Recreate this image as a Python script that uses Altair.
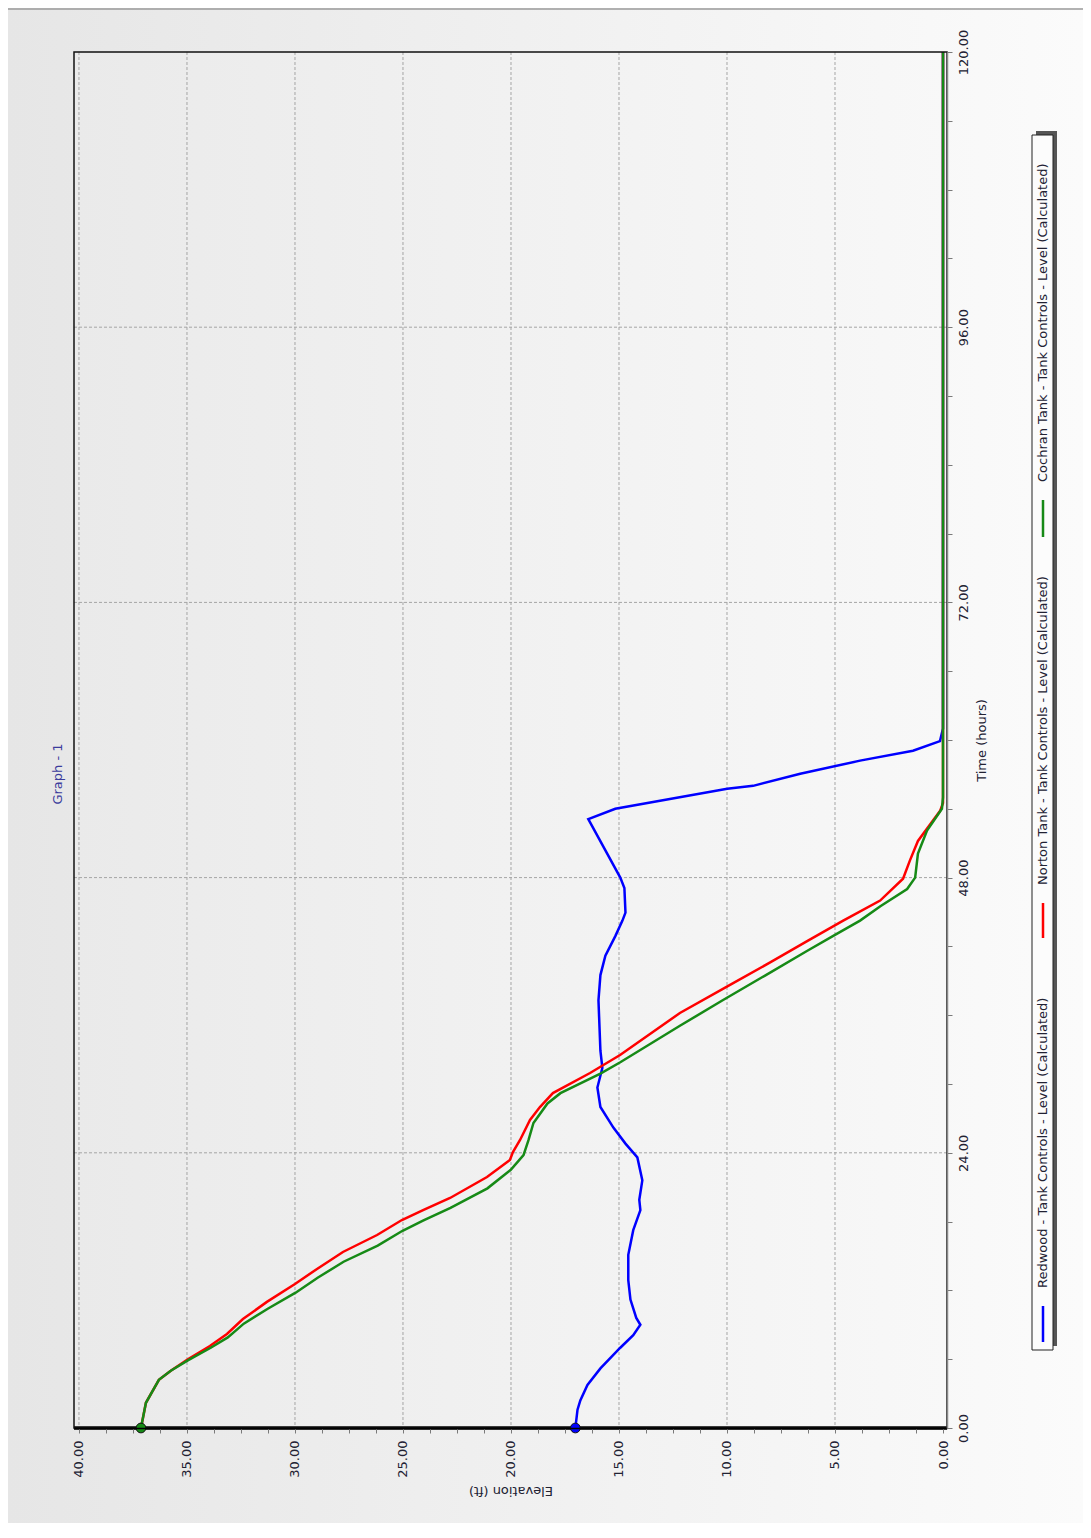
import altair as alt
import pandas as pd

# ------------------------------------------------------------------ data
series_names = [
    "Redwood - Tank Controls - Level (Calculated)",
    "Norton Tank - Tank Controls - Level (Calculated)",
    "Cochran Tank - Tank Controls - Level (Calculated)",
]
series_colors = ["#0000ff", "#ff0000", "#168a16"]

redwood_time = [0, 1.6, 2.4, 3.75, 5.2, 7.0, 8.1, 9.0, 9.6, 11.2, 12.9, 15.1, 17.25, 19.0, 19.9,
                21.6, 23.6, 24.8, 26.2, 28.0, 29.7, 31.4, 32.9, 37.3, 39.5, 41.2, 42.9, 44.25, 44.95,
                47.1, 48.0, 53.1, 54.0, 55.75, 56.0, 57.06, 58.2, 59.06, 59.9, 61.0, 120.0]
redwood_level = [17.02, 16.92, 16.79, 16.46, 15.86, 14.94, 14.34, 14.01, 14.2, 14.47, 14.57, 14.57,
                 14.34, 14.01, 14.06, 13.92, 14.15, 14.7, 15.26, 15.86, 16.0, 15.77, 15.86, 15.95,
                 15.86, 15.63, 15.17, 14.84, 14.70, 14.75, 14.94, 16.42, 15.17, 9.99, 8.79, 6.61,
                 3.84, 1.39, 0.14, 0.0, 0.0]

norton_time = [0, 2.2, 4.2, 5.0, 6.0, 7.15, 8.2, 9.5, 11.0, 12.56, 13.87, 15.35, 16.83, 18.14, 19.01,
               20.06, 21.89, 23.37, 24.07, 25.12, 26.86, 27.99, 29.21, 30.96, 32.53, 36.19, 38.6,
               40.6, 42.5, 44.25, 46.0, 47.9, 49.5, 51.2, 53.8, 54.5, 120.0]
norton_level = [37.13, 36.90, 36.30, 35.75, 34.96, 33.94, 33.15, 32.41, 31.30, 30.00, 28.98, 27.78,
                26.20, 25.05, 24.07, 22.82, 21.11, 20.05, 19.91, 19.58, 19.12, 18.66, 18.06, 16.34,
                14.95, 12.18, 9.9, 8.0, 6.25, 4.62, 2.91, 1.85, 1.53, 1.16, 0.14, 0.0, 0.0]

cochran_time = [0, 2.2, 4.2, 5.0, 5.9, 7.0, 7.9, 9.1, 10.4, 11.8, 13.1, 14.5, 15.9, 17.2, 18.1, 19.2,
                20.9, 22.5, 23.8, 25.1, 26.6, 28.3, 29.2, 30.9, 31.9, 35.1, 37.3, 39.5, 41.6, 43.0,
                44.25, 45.5, 47.0, 48.0, 50.1, 52.1, 54.0, 55.0, 120.0]
cochran_level = [37.13, 36.90, 36.30, 35.75, 34.96, 33.90, 33.11, 32.37, 31.26, 29.97, 28.95, 27.75,
                 26.17, 25.02, 24.05, 22.80, 21.09, 20.02, 19.42, 19.19, 18.96, 18.31, 17.71, 15.86,
                 14.94, 12.16, 10.2, 8.2, 6.3, 5.0, 3.84, 2.9, 1.66, 1.29, 1.16, 0.74, 0.05, 0.0, 0.0]

# start markers (time 0)
marker_series = [series_names[0], series_names[2]]
marker_time = [0.0, 0.0]
marker_level = [17.02, 37.13]

elev_grid = [5, 10, 15, 20, 25, 30, 35, 40]
time_grid = [24, 48, 72, 96]
elev_ticks = [i * 1.25 for i in range(33)]
time_ticks = [i * 6 for i in range(21)]

# ------------------------------------------------------------------ tables
rows = []
for name, ts, vs in zip(series_names,
                        [redwood_time, norton_time, cochran_time],
                        [redwood_level, norton_level, cochran_level]):
    for k, (t, v) in enumerate(zip(ts, vs)):
        rows.append({"series": name, "t": t, "lvl": v, "k": k})
df = pd.DataFrame(rows)
pts = pd.DataFrame({"series": marker_series, "t": marker_time, "lvl": marker_level})
vgrid = pd.DataFrame({"lvl": elev_grid})
hgrid = pd.DataFrame({"t": time_grid})
zero_t = pd.DataFrame({"t": [0.0]})
one = pd.DataFrame({"a": [0]})

W, H = 873, 1376
PAD = {"left": 66, "top": 44, "right": 136, "bottom": 95}
FONT = "DejaVu Sans"
TXT = "#222233"

xscale = alt.Scale(domain=[-0.185, 40.23], reverse=True, nice=False, zero=False)
yscale = alt.Scale(domain=[0, 120], nice=False, zero=False)
cscale = alt.Scale(domain=series_names, range=series_colors)

xaxis = alt.Axis(
    orient="bottom", values=elev_ticks,
    labelExpr="datum.value % 5 === 0 ? format(datum.value, '.2f') : ''",
    labelAngle=270, labelAlign="right", labelBaseline="middle", labelPadding=7,
    labelFlush=False, labelOverlap=False, labelBound=False,
    tickSize=5, tickColor="#7a7a7a", domainColor="#000000", domainWidth=1.5,
    grid=False, title="Elevation (ft)", titleAngle=180, titleBaseline="bottom",
    titlePadding=6, zindex=1,
)
yaxis = alt.Axis(
    orient="right", values=time_ticks,
    labelExpr="datum.value % 24 === 0 ? format(datum.value, '.2f') : ''",
    labelAngle=270, labelAlign="center", labelBaseline="top", labelPadding=5,
    labelFlush=False, labelOverlap=False, labelBound=False,
    tickSize=5, tickColor="#7a7a7a", domainColor="#8a8a8a", domainWidth=1.5,
    grid=False, title="Time (hours)", titleAngle=270, titleBaseline="top",
    titlePadding=5, zindex=1,
)

X = lambda: alt.X("lvl:Q", scale=xscale, axis=xaxis)
Y = lambda: alt.Y("t:Q", scale=yscale, axis=yaxis)

# ------------------------------------------------------------------ background
outer_bg = alt.Chart(one).mark_rect(
    fill=alt.LinearGradient(gradient="linear",
                            stops=[alt.GradientStop(color="#e6e6e6", offset=0),
                                   alt.GradientStop(color="#fbfbfb", offset=1)],
                            x1=0, x2=1, y1=0, y2=0)
).encode(x=alt.value(-PAD["left"]), x2=alt.value(W + PAD["right"]),
         y=alt.value(-PAD["top"]), y2=alt.value(H + PAD["bottom"]))

top_line = alt.Chart(one).mark_rule(color="#9a9a9a", strokeWidth=1.5).encode(
    x=alt.value(-PAD["left"]), x2=alt.value(W + PAD["right"]), y=alt.value(-43))

plot_bg = alt.Chart(one).mark_rect(
    fill=alt.LinearGradient(gradient="linear",
                            stops=[alt.GradientStop(color="#eaeaea", offset=0),
                                   alt.GradientStop(color="#f8f8f8", offset=1)],
                            x1=0, x2=1, y1=0, y2=0)
).encode(x=alt.value(0), x2=alt.value(W), y=alt.value(0), y2=alt.value(H))

vgrid_l = alt.Chart(vgrid).mark_rule(color="#a5a5a5", strokeWidth=1, strokeDash=[3, 2]).encode(
    x=X())
hgrid_l = alt.Chart(hgrid).mark_rule(color="#a5a5a5", strokeWidth=1, strokeDash=[3, 2]).encode(
    y=Y())

# ------------------------------------------------------------------ data layers
lines = alt.Chart(df).mark_line(strokeWidth=2.5).encode(
    x=X(), y=Y(),
    color=alt.Color("series:N", scale=cscale, legend=None),
    order=alt.Order("k:Q"),
)

zero_rule = alt.Chart(zero_t).mark_rule(color="#000000", strokeWidth=3.5).encode(y=Y())

border = alt.Chart(one).mark_rect(fillOpacity=0, stroke="#111111", strokeWidth=1.5).encode(
    x=alt.value(0), x2=alt.value(W), y=alt.value(0), y2=alt.value(H))

points = alt.Chart(pts).mark_point(filled=True, size=95, opacity=1, stroke="#111111",
                                   strokeWidth=1).encode(
    x=X(), y=Y(),
    fill=alt.Fill("series:N", scale=cscale, legend=None),
)

# ------------------------------------------------------------------ legend (rotated, drawn by hand)
LX0, LX1, LY0, LY1 = 958, 979, 83, 1298
legend_shadow = alt.Chart(one).mark_rect(fill="#555555").encode(
    x=alt.value(LX0 + 4), x2=alt.value(LX1 + 4), y=alt.value(LY0 - 4), y2=alt.value(LY1 - 4))
legend_box = alt.Chart(one).mark_rect(fill="#fcfcfc", stroke="#222222", strokeWidth=1).encode(
    x=alt.value(LX0), x2=alt.value(LX1), y=alt.value(LY0), y2=alt.value(LY1))

legend_layers = [legend_shadow, legend_box]
item_stroke = [(1254, 1290), (851, 886), (448, 485)]
item_text = [1236, 833, 430]
for name, col, (s0, s1), ty in zip(series_names, series_colors, item_stroke, item_text):
    legend_layers.append(
        alt.Chart(one).mark_rule(color=col, strokeWidth=2.5).encode(
            x=alt.value(969), y=alt.value(s0), y2=alt.value(s1)))
    legend_layers.append(
        alt.Chart(one).mark_text(angle=270, align="left", baseline="middle", font=FONT,
                                 fontSize=13, color=TXT).encode(
            x=alt.value(969), y=alt.value(ty), text=alt.value(name)))

graph_title = alt.Chart(one).mark_text(angle=270, align="center", baseline="middle", font=FONT,
                                       fontSize=13, color="#3b3b9c").encode(
    x=alt.value(-16.5), y=alt.value(722), text=alt.value("Graph - 1"))

chart = alt.layer(
    outer_bg, top_line, plot_bg, vgrid_l, hgrid_l, lines, zero_rule, border, points,
    *legend_layers, graph_title,
).properties(
    width=W, height=H, padding=PAD,
    autosize=alt.AutoSizeParams(type="none"),
    background="#e8e8e8",
).configure_view(
    strokeWidth=0,
).configure_axis(
    labelFont=FONT, labelFontSize=13, labelColor=TXT,
    titleFont=FONT, titleFontSize=13, titleColor=TXT, titleFontWeight="normal",
)

chart.save("out.html", embed_options={"renderer": "svg", "actions": False})
